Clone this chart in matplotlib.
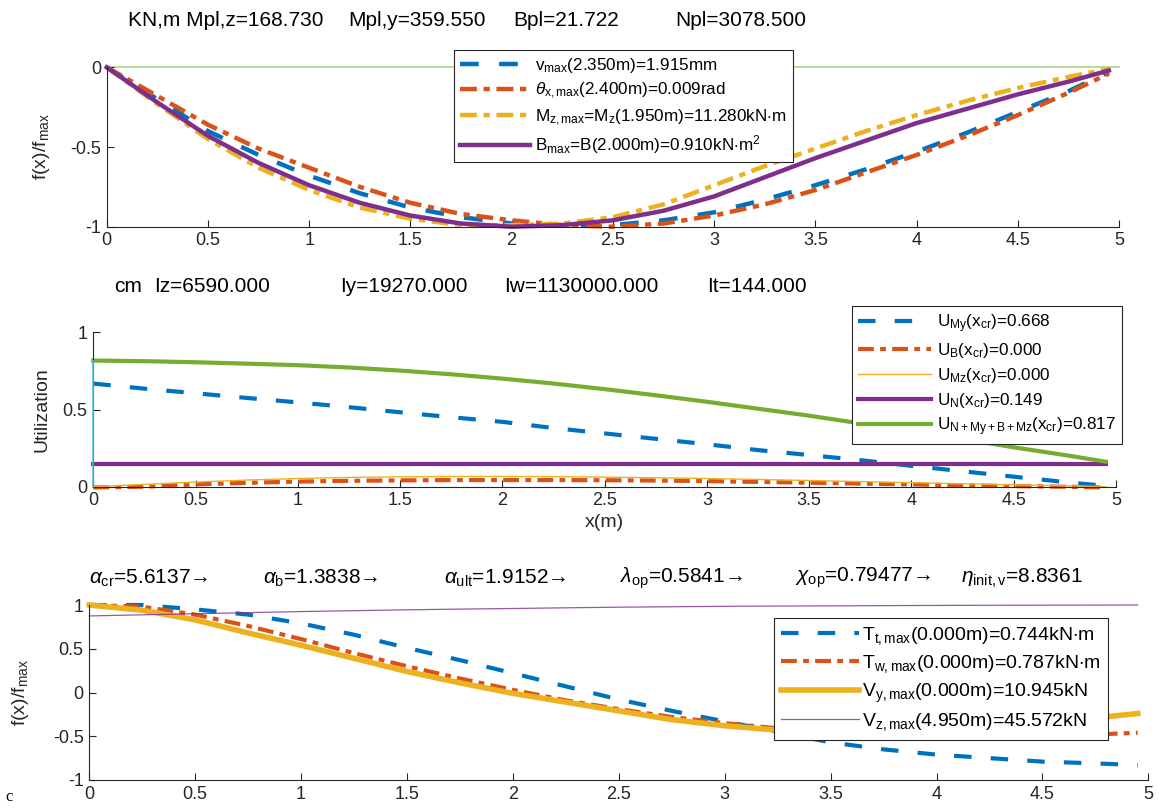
import matplotlib
matplotlib.use("Agg")
import matplotlib.pyplot as plt

plt.rcParams['font.family'] = ['Liberation Sans', 'DejaVu Sans']
plt.rcParams['mathtext.fontset'] = 'custom'
plt.rcParams['mathtext.rm'] = 'Liberation Sans'
plt.rcParams['mathtext.it'] = 'Liberation Sans:italic'
plt.rcParams['mathtext.bf'] = 'Liberation Sans:bold'

# ---------------- data ----------------
x = [0, 0.25, 0.5, 0.75, 1.0, 1.25, 1.5, 1.75, 2.0, 2.25, 2.5, 2.75,
     3.0, 3.25, 3.5, 3.75, 4.0, 4.25, 4.5, 4.75, 4.95]

# top panel: normalised deformations / forces
v_top = [0, -0.20, -0.40, -0.55, -0.68, -0.79, -0.88, -0.94, -0.98, -0.995, -0.99,
         -0.96, -0.91, -0.83, -0.74, -0.64, -0.53, -0.41, -0.28, -0.15, -0.03]
theta_top = [0, -0.18, -0.36, -0.51, -0.63, -0.75, -0.85, -0.92, -0.96, -0.99, -1.0,
             -0.98, -0.93, -0.86, -0.77, -0.66, -0.55, -0.43, -0.30, -0.16, -0.04]
mz_top = [0, -0.23, -0.45, -0.63, -0.77, -0.88, -0.95, -0.99, -0.99, -0.98, -0.94,
          -0.86, -0.74, -0.62, -0.51, -0.40, -0.30, -0.21, -0.13, -0.06, -0.01]
b_top = [0, -0.22, -0.43, -0.60, -0.74, -0.85, -0.93, -0.98, -1.0, -0.99, -0.96,
         -0.90, -0.81, -0.69, -0.57, -0.46, -0.35, -0.26, -0.17, -0.09, -0.02]
top_labels = [r'v$_{\rm max}$(2.350m)=1.915mm',
              r'$\theta_{\rm x,max}$(2.400m)=0.009rad',
              r'M$_{\rm z,max}$=M$_{\rm z}$(1.950m)=11.280kN$\cdot$m',
              r'B$_{\rm max}$=B(2.000m)=0.910kN$\cdot$m$^{2}$']
top_title = ['KN,m Mpl,z=168.730', 'Mpl,y=359.550', 'Bpl=21.722', 'Npl=3078.500']

# middle panel: utilisation
u_my = [0.668, 0.635, 0.605, 0.575, 0.546, 0.515, 0.482, 0.45, 0.42, 0.38, 0.345,
        0.31, 0.275, 0.237, 0.205, 0.172, 0.135, 0.10, 0.065, 0.03, 0.005]
u_b = [-0.005, 0.0, 0.015, 0.025, 0.033, 0.038, 0.041, 0.043, 0.043, 0.043, 0.042,
       0.04, 0.036, 0.031, 0.026, 0.02, 0.015, 0.009, 0.004, 0.0, -0.005]
u_mz = [0, 0.015, 0.03, 0.043, 0.053, 0.06, 0.064, 0.066, 0.066, 0.065, 0.062,
        0.058, 0.053, 0.047, 0.04, 0.033, 0.026, 0.019, 0.012, 0.006, 0.0]
u_n = [0.149] * 21
u_tot = [0.817, 0.813, 0.806, 0.797, 0.787, 0.772, 0.752, 0.728, 0.70, 0.668, 0.632,
         0.592, 0.55, 0.505, 0.46, 0.41, 0.36, 0.31, 0.255, 0.205, 0.162]
mid_labels = [r'U$_{\rm My}$(x$_{\rm cr}$)=0.668',
              r'U$_{\rm B}$(x$_{\rm cr}$)=0.000',
              r'U$_{\rm Mz}$(x$_{\rm cr}$)=0.000',
              r'U$_{\rm N}$(x$_{\rm cr}$)=0.149',
              r'U$_{\rm N+My+B+Mz}$(x$_{\rm cr}$)=0.817']
mid_title = ['cm', 'Iz=6590.000', 'Iy=19270.000', 'Iw=1130000.000', 'It=144.000']

# bottom panel: internal forces
t_t = [1.0, 1.0, 0.95, 0.89, 0.79, 0.66, 0.51, 0.37, 0.22, 0.07, -0.08,
       -0.21, -0.33, -0.45, -0.57, -0.65, -0.71, -0.75, -0.79, -0.81, -0.83]
t_w = [1.0, 0.98, 0.89, 0.76, 0.61, 0.45, 0.30, 0.16, 0.03, -0.09, -0.19,
       -0.28, -0.35, -0.41, -0.45, -0.47, -0.49, -0.49, -0.49, -0.48, -0.46]
v_y = [1.0, 0.94, 0.83, 0.68, 0.54, 0.39, 0.24, 0.11, -0.01, -0.11, -0.21,
       -0.31, -0.38, -0.43, -0.45, -0.45, -0.43, -0.39, -0.34, -0.29, -0.24]
v_z = [0.875, 0.888, 0.90, 0.913, 0.925, 0.935, 0.945, 0.953, 0.96, 0.968, 0.975,
       0.98, 0.985, 0.988, 0.99, 0.993, 0.995, 0.997, 0.998, 0.999, 1.0]
bot_labels = [r'T$_{\rm t,max}$(0.000m)=0.744kN$\cdot$m',
              r'T$_{\rm w,max}$(0.000m)=0.787kN$\cdot$m',
              r'V$_{\rm y,max}$(0.000m)=10.945kN',
              r'V$_{\rm z,max}$(4.950m)=45.572kN']
bot_title = [r'$\alpha_{\rm cr}$=5.6137→',
             r'$\alpha_{\rm b}$=1.3838→',
             r'$\alpha_{\rm ult}$=1.9152→',
             r'$\lambda_{\rm op}$=0.5841→',
             r'$\chi_{\rm op}$=0.79477→',
             r'$\eta_{\rm init,v}$=8.8361']

xticks = [0, 0.5, 1, 1.5, 2, 2.5, 3, 3.5, 4, 4.5, 5]
xticklabels = ['0', '0.5', '1', '1.5', '2', '2.5', '3', '3.5', '4', '4.5', '5']

# ---------------- style ----------------
BLUE = '#0072BD'
ORANGE = '#D95319'
YELLOW = '#EDB120'
PURPLE = '#7E2F8E'
GREEN = '#77AC30'
LGREEN = '#A5CF7E'
LBLUE = '#4DBEEE'
AX = '#262626'

W, H = 1159, 808
fig = plt.figure(figsize=(W / 100, H / 100), dpi=100)


def px_axes(l, r, t, b):
    return fig.add_axes([l / W, 1 - b / H, (r - l) / W, (b - t) / H])


def style(ax):
    for s in ['top', 'right']:
        ax.spines[s].set_visible(False)
    for s in ['left', 'bottom']:
        ax.spines[s].set_color(AX)
        ax.spines[s].set_linewidth(0.8)
    ax.tick_params(direction='in', length=5, width=0.8, colors=AX,
                   labelsize=13, pad=4)
    ax.set_xlim(0, 5)
    ax.set_xticks(xticks)
    ax.set_xticklabels(xticklabels)


def px_text(xp, yp, s, size=15, **kw):
    fig.text(xp / W, 1 - yp / H, s, fontsize=size, color='#000000',
             va='center', ha='left', **kw)


DASH = (4.2, 4.6)
DASHDOT = (3.8, 1.5, 1.4, 1.5)

# ---------- top ----------
ax1 = px_axes(106.7, 1119, 67.3, 226.7)
style(ax1)
ax1.set_ylim(-1, 0)
ax1.set_yticks([-1, -0.5, 0])
ax1.set_yticklabels(['-1', '-0.5', '0'])
ax1.axhline(0, color=LGREEN, lw=1.1, zorder=1, clip_on=False)
l1, = ax1.plot(x, v_top, color=BLUE, lw=3.2, dashes=DASH, clip_on=False)
l2, = ax1.plot(x, theta_top, color=ORANGE, lw=3.2, dashes=DASHDOT, clip_on=False)
l3, = ax1.plot(x, mz_top, color=YELLOW, lw=3.2, dashes=DASHDOT, clip_on=False)
l4, = ax1.plot(x, b_top, color=PURPLE, lw=3.2, clip_on=False)
ax1.set_ylabel(r'f(x)/f$_{\rm max}$', fontsize=14, color=AX)
ax1.yaxis.set_label_coords(-0.054, 0.5)
leg1 = fig.legend([l1, l2, l3, l4], top_labels, loc='upper left',
                  bbox_to_anchor=(454 / W, 1 - 50 / H), bbox_transform=fig.transFigure,
                  fontsize=12.3, handlelength=4.1, handletextpad=0.3,
                  labelspacing=0.35, borderpad=0.35, borderaxespad=0,
                  fancybox=False, framealpha=1, edgecolor=AX)
leg1.get_frame().set_linewidth(0.8)
for xp, s in zip([127.8, 348.5, 513.5, 675.5], top_title):
    px_text(xp, 21, s)

# ---------- middle ----------
ax2 = px_axes(93.3, 1116, 332.3, 486.7)
style(ax2)
ax2.set_ylim(0, 1)
ax2.set_yticks([0, 0.5, 1])
ax2.set_yticklabels(['0', '0.5', '1'])
ax2.plot([x[0], x[0]], [0, u_tot[0]], color=LBLUE, lw=1.2, clip_on=False, zorder=3)
m1, = ax2.plot(x, u_my, color=BLUE, lw=3.0, dashes=DASH, clip_on=False)
m2, = ax2.plot(x, u_b, color=ORANGE, lw=3.0, dashes=DASHDOT, clip_on=False)
m3, = ax2.plot(x, u_mz, color=YELLOW, lw=1.0, clip_on=False)
m4, = ax2.plot(x, u_n, color=PURPLE, lw=3.0, clip_on=False)
m5, = ax2.plot(x, u_tot, color=GREEN, lw=3.0, clip_on=False)
ax2.set_ylabel('Utilization', fontsize=14, color=AX)
ax2.yaxis.set_label_coords(-0.042, 0.5)
ax2.text(0.5, -0.23, 'x(m)', transform=ax2.transAxes, fontsize=14, color=AX,
         ha='center', va='center')
leg2 = fig.legend([m1, m2, m3, m4, m5], mid_labels, loc='upper left',
                  bbox_to_anchor=(852 / W, 1 - 306 / H), bbox_transform=fig.transFigure,
                  fontsize=12.3, handlelength=4.3, handletextpad=0.3,
                  labelspacing=0.35, borderpad=0.35, borderaxespad=0,
                  fancybox=False, framealpha=1, edgecolor=AX)
leg2.get_frame().set_linewidth(0.8)
for xp, s in zip([114, 153.7, 340, 504.5, 707], mid_title):
    px_text(xp, 286, s)

# ---------- bottom ----------
ax3 = px_axes(89.3, 1148.3, 605, 780)
style(ax3)
ax3.set_ylim(-1, 1)
ax3.set_yticks([-1, -0.5, 0, 0.5, 1])
ax3.set_yticklabels(['-1', '-0.5', '0', '0.5', '1'])
b1, = ax3.plot(x, t_t, color=BLUE, lw=3.0, dashes=DASH, clip_on=False)
b2, = ax3.plot(x, t_w, color=ORANGE, lw=3.0, dashes=DASHDOT, clip_on=False)
b3, = ax3.plot(x, v_y, color=YELLOW, lw=4.0, clip_on=False)
b4, = ax3.plot(x, v_z, color=PURPLE, lw=0.9, alpha=0.8, clip_on=False)
ax3.set_ylabel(r'f(x)/f$_{\rm max}$', fontsize=14, color=AX)
ax3.yaxis.set_label_coords(-0.055, 0.5)
leg3 = fig.legend([b1, b2, b3, b4], bot_labels, loc='upper left',
                  bbox_to_anchor=(774 / W, 1 - 618 / H), bbox_transform=fig.transFigure,
                  fontsize=14, handlelength=4.0, handletextpad=0.2,
                  labelspacing=0.33, borderpad=0.35, borderaxespad=0,
                  fancybox=False, framealpha=1, edgecolor=AX)
leg3.get_frame().set_linewidth(0.8)
for xp, s in zip([89.3, 263, 444.5, 620, 794.6, 961.3], bot_title):
    px_text(xp, 578, s)

fig.text(5 / W, 1 - 797 / H, 'c', fontsize=12, family='Liberation Serif',
         va='center', ha='left')

fig.savefig('out.png', dpi=100)
